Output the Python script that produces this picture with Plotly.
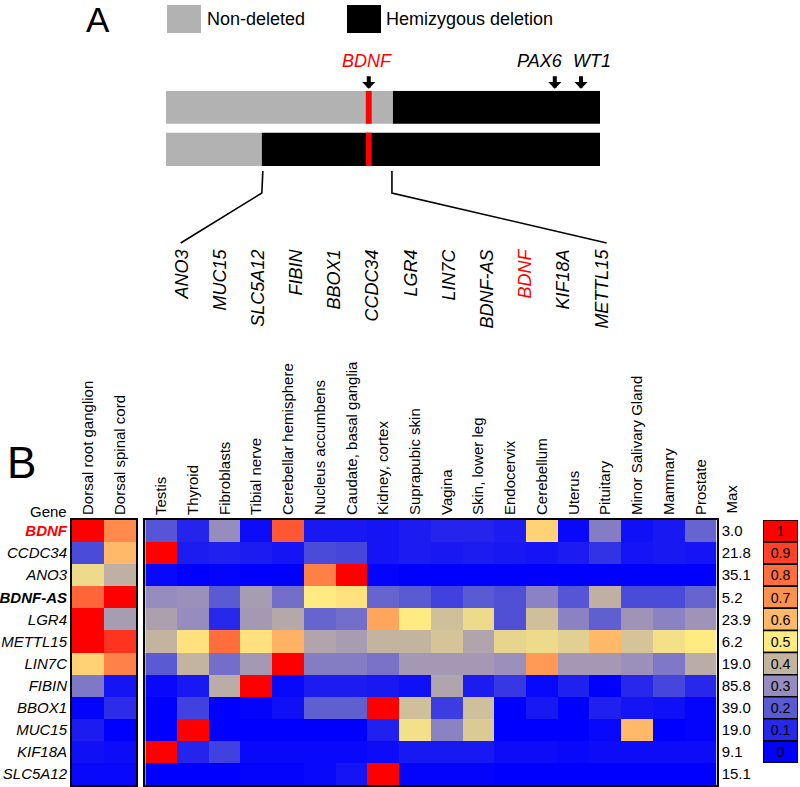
import plotly.graph_objects as go

# ---------------- data ----------------
# Panel A: chromosome 11p region (Mb)
chrom_start = 23.2
chrom_end = 32.8
patients = [0, 1]
breakpoints = [28.22, 25.32]          # start of hemizygous deletion per patient
bdnf_start, bdnf_end = 27.62, 27.75
marker_genes = ["BDNF", "PAX6", "WT1"]
marker_pos = [27.685, 31.80, 32.38]
deleted_genes = ["ANO3", "MUC15", "SLC5A12", "FIBIN", "BBOX1", "CCDC34",
                 "LGR4", "LIN7C", "BDNF-AS", "BDNF", "KIF18A", "METTL15"]

# Panel B: expression heatmap (row-normalised)
genes = ["BDNF", "CCDC34", "ANO3", "BDNF-AS", "LGR4", "METTL15", "LIN7C",
         "FIBIN", "BBOX1", "MUC15", "KIF18A", "SLC5A12"]
max_vals = [3.0, 21.8, 35.1, 5.2, 23.9, 6.2, 19.0, 85.8, 39.0, 19.0, 9.1, 15.1]
tissues_left = ["Dorsal root ganglion", "Dorsal spinal cord"]
tissues_right = ["Testis", "Thyroid", "Fibroblasts", "Tibial nerve",
                 "Cerebellar hemisphere", "Nucleus accumbens",
                 "Caudate, basal ganglia", "Kidney, cortex", "Suprapubic skin",
                 "Vagina", "Skin, lower leg", "Endocervix", "Cerebellum",
                 "Uterus", "Pituitary", "Minor Salivary Gland", "Mammary",
                 "Prostate"]
left_vals = [
    [1.00, 0.72],
    [0.17, 0.60],
    [0.47, 0.39],
    [0.82, 1.00],
    [1.00, 0.34],
    [1.00, 0.92],
    [0.55, 0.74],
    [0.26, 0.05],
    [0.01, 0.11],
    [0.07, 0.00],
    [0.04, 0.03],
    [0.02, 0.02],
]
right_vals = [
    [0.19, 0.09, 0.30, 0.03, 0.85, 0.06, 0.06, 0.05, 0.07, 0.09, 0.09, 0.07, 0.55, 0.02, 0.27, 0.04, 0.06, 0.22],
    [1.00, 0.07, 0.08, 0.07, 0.05, 0.17, 0.16, 0.05, 0.07, 0.06, 0.07, 0.06, 0.05, 0.07, 0.12, 0.05, 0.06, 0.05],
    [0.02, 0.00, 0.01, 0.00, 0.00, 0.75, 1.00, 0.01, 0.00, 0.00, 0.00, 0.00, 0.00, 0.00, 0.00, 0.00, 0.00, 0.00],
    [0.30, 0.31, 0.20, 0.34, 0.24, 0.50, 0.52, 0.22, 0.20, 0.15, 0.20, 0.18, 0.28, 0.19, 0.39, 0.17, 0.17, 0.22],
    [0.35, 0.30, 0.10, 0.33, 0.37, 0.22, 0.24, 0.65, 0.50, 0.42, 0.47, 0.18, 0.42, 0.28, 0.21, 0.32, 0.28, 0.32],
    [0.40, 0.52, 0.80, 0.52, 0.62, 0.36, 0.34, 0.40, 0.40, 0.43, 0.36, 0.46, 0.47, 0.45, 0.60, 0.43, 0.48, 0.50],
    [0.20, 0.40, 0.24, 0.33, 1.00, 0.27, 0.27, 0.25, 0.33, 0.33, 0.33, 0.31, 0.68, 0.33, 0.33, 0.31, 0.26, 0.38],
    [0.02, 0.06, 0.38, 1.00, 0.02, 0.07, 0.07, 0.06, 0.04, 0.36, 0.07, 0.13, 0.02, 0.08, 0.00, 0.10, 0.16, 0.10],
    [0.00, 0.15, 0.00, 0.01, 0.04, 0.21, 0.21, 1.00, 0.42, 0.14, 0.42, 0.00, 0.06, 0.00, 0.08, 0.05, 0.04, 0.01],
    [0.00, 1.00, 0.00, 0.00, 0.00, 0.00, 0.00, 0.08, 0.48, 0.28, 0.44, 0.00, 0.00, 0.00, 0.02, 0.60, 0.00, 0.01],
    [1.00, 0.09, 0.15, 0.02, 0.02, 0.02, 0.02, 0.03, 0.06, 0.06, 0.06, 0.03, 0.03, 0.02, 0.03, 0.03, 0.03, 0.03],
    [0.00, 0.00, 0.00, 0.01, 0.01, 0.02, 0.05, 1.00, 0.01, 0.01, 0.01, 0.00, 0.00, 0.00, 0.00, 0.00, 0.00, 0.00],
]
scale_levels = [1, 0.9, 0.8, 0.7, 0.6, 0.5, 0.4, 0.3, 0.2, 0.1, 0]
scale_labels = ["1", "0.9", "0.8", "0.7", "0.6", "0.5", "0.4", "0.3", "0.2", "0.1", "0"]
scale_colors = ["#ff0000", "#ff4128", "#ff6e3c", "#ff9150", "#ffb969", "#ffeb82",
                "#c3b4a0", "#968cbe", "#5a5ad2", "#2828eb", "#0000ff"]

# ---------------- layout helpers ----------------
W, H = 800, 787
FONT = "Liberation Sans, Arial, Helvetica, sans-serif"
def px(p):
    return p / W
def py(p):
    return 1 - p / H

BAR_W = 0.787
colorscale = [[lvl, c] for lvl, c in sorted(zip(scale_levels, scale_colors))]

fig = go.Figure()

# ---- Panel A: chromosome bars ----
fig.add_trace(go.Bar(y=patients, x=[b - chrom_start for b in breakpoints],
                     base=[chrom_start] * 2, orientation="h", width=BAR_W,
                     marker=dict(color="#b2b2b2", line=dict(width=0)),
                     xaxis="x3", yaxis="y3", hoverinfo="skip", showlegend=False))
fig.add_trace(go.Bar(y=patients, x=[chrom_end - b for b in breakpoints],
                     base=breakpoints, orientation="h", width=BAR_W,
                     marker=dict(color="#000000", line=dict(width=0)),
                     xaxis="x3", yaxis="y3", hoverinfo="skip", showlegend=False))
fig.add_trace(go.Bar(y=patients, x=[bdnf_end - bdnf_start] * 2,
                     base=[bdnf_start] * 2, orientation="h", width=BAR_W,
                     marker=dict(color="#ff0000", line=dict(width=0)),
                     xaxis="x3", yaxis="y3", hoverinfo="skip", showlegend=False))

# gene list axis (dummy invisible trace so the axis is drawn)
fig.add_trace(go.Scatter(x=list(range(len(deleted_genes))), y=[0] * len(deleted_genes),
                         mode="markers", marker=dict(opacity=0), xaxis="x4", yaxis="y4",
                         hoverinfo="skip", showlegend=False))

# ---- Panel B: heatmaps ----
fig.add_trace(go.Heatmap(z=left_vals, x=list(range(len(tissues_left))),
                         y=list(range(len(genes))), zmin=0, zmax=1,
                         colorscale=colorscale, showscale=False,
                         xaxis="x", yaxis="y", hoverinfo="skip"))
fig.add_trace(go.Heatmap(z=right_vals, x=list(range(len(tissues_right))),
                         y=list(range(len(genes))), zmin=0, zmax=1,
                         colorscale=colorscale, showscale=False,
                         xaxis="x2", yaxis="y2", hoverinfo="skip"))

# ---- colour key ----
fig.add_trace(go.Bar(y=scale_labels, x=[1] * len(scale_labels), orientation="h",
                     width=1, marker=dict(color=scale_colors,
                                          line=dict(color="black", width=1.5)),
                     text=scale_labels, textposition="inside",
                     insidetextanchor="middle", textangle=0,
                     textfont=dict(size=15, color="black", family=FONT),
                     xaxis="x5", yaxis="y5", hoverinfo="skip", showlegend=False))

# ---------------- tick texts ----------------
def row_label(g):
    if g == "BDNF":
        return '<b><i><span style="color:#ff0000">BDNF</span></i></b>'
    if g == "BDNF-AS":
        return "<b><i>BDNF-AS</i></b>"
    return "<i>%s</i>" % g

def top_gene_label(g):
    if g == "BDNF":
        return '<i><span style="color:#ff0000">BDNF</span></i>'
    return "<i>%s</i>" % g

hm_top, hm_bot = 520, 785
frame = dict(showline=True, mirror=True, linecolor="black", linewidth=2,
             showgrid=False, zeroline=False, ticks="")

fig.update_layout(
    width=W, height=H,
    margin=dict(l=0, r=0, t=0, b=0),
    paper_bgcolor="white", plot_bgcolor="white",
    font=dict(family=FONT, color="black", size=15),
    barmode="overlay",
    showlegend=False,
    xaxis=dict(domain=[px(72), px(136)], anchor="y", side="top",
               range=[-0.5, len(tissues_left) - 0.5],
               tickvals=list(range(len(tissues_left))), ticktext=tissues_left,
               tickangle=-90, tickfont=dict(size=15), **frame),
    yaxis=dict(domain=[py(hm_bot), py(hm_top)], anchor="x",
               range=[len(genes) - 0.5, -0.5],
               tickvals=list(range(len(genes))),
               ticktext=[row_label(g) for g in genes],
               tickfont=dict(size=15), **frame),
    xaxis2=dict(domain=[px(145.3), px(716.7)], anchor="y2", side="top",
                range=[-0.5, len(tissues_right) - 0.5],
                tickvals=list(range(len(tissues_right))), ticktext=tissues_right,
                tickangle=-90, tickfont=dict(size=15), **frame),
    yaxis2=dict(domain=[py(hm_bot), py(hm_top)], anchor="x2", side="right",
                range=[len(genes) - 0.5, -0.5],
                tickvals=list(range(len(genes))),
                ticktext=["%.1f" % v for v in max_vals],
                tickfont=dict(size=15), **frame),
    xaxis3=dict(domain=[px(166), px(600)], anchor="y3",
                range=[chrom_start, chrom_end], visible=False),
    yaxis3=dict(domain=[py(166), py(90.7)], anchor="x3",
                range=[1 + BAR_W / 2, -BAR_W / 2], visible=False),
    xaxis4=dict(domain=[px(162.6), px(620.8)], anchor="y4",
                range=[-0.5, len(deleted_genes) - 0.5],
                tickvals=list(range(len(deleted_genes))),
                ticktext=[top_gene_label(g) for g in deleted_genes],
                tickangle=-90, tickfont=dict(size=18), ticks="",
                showline=False, showgrid=False, zeroline=False),
    yaxis4=dict(domain=[py(245), py(240)], anchor="x4", visible=False),
    xaxis5=dict(domain=[px(763), px(798)], anchor="y5", range=[0, 1],
                visible=False),
    yaxis5=dict(domain=[py(763), py(hm_top)], anchor="x5", type="category",
                categoryorder="array", categoryarray=scale_labels,
                autorange="reversed", visible=False),
)

# ---------------- shapes (legend boxes, leader lines) ----------------
def mb_px(mb):
    return 166 + (mb - chrom_start) / (chrom_end - chrom_start) * (600 - 166)

def gene_px(i):
    step = (620.8 - 162.6) / len(deleted_genes)
    return 162.6 + (i + 0.5) * step

shapes = [
    dict(type="rect", xref="paper", yref="paper", x0=px(167), x1=px(201),
         y0=py(33), y1=py(5), fillcolor="#b2b2b2", line=dict(width=0)),
    dict(type="rect", xref="paper", yref="paper", x0=px(347), x1=px(381),
         y0=py(33), y1=py(5), fillcolor="#000000", line=dict(width=0)),
]
left_x = mb_px(breakpoints[1])
right_x = mb_px(breakpoints[0])
lines = [
    [(left_x + 1, 171), (left_x, 193), (gene_px(0) - 1, 243)],
    [(right_x - 1, 171), (right_x - 1, 193), (gene_px(len(deleted_genes) - 1) + 5, 243)],
]
for pts in lines:
    path = "M " + " L ".join("%f,%f" % (px(x), py(y)) for x, y in pts)
    shapes.append(dict(type="path", xref="paper", yref="paper", path=path,
                       line=dict(color="black", width=1.6)))
fig.update_layout(shapes=shapes)

# ---------------- annotations ----------------
ann = [
    dict(text="A", x=px(84), y=py(19.5), xanchor="left", yanchor="middle",
         font=dict(size=35)),
    dict(text="B", x=px(5), y=py(462.5), xanchor="left", yanchor="middle",
         font=dict(size=44)),
    dict(text="Non-deleted", x=px(205), y=py(19.5), xanchor="left",
         yanchor="middle", font=dict(size=18)),
    dict(text="Hemizygous deletion", x=px(384), y=py(19.5), xanchor="left",
         yanchor="middle", font=dict(size=18)),
    dict(text="Gene", x=px(69), y=py(511), xanchor="right", yanchor="middle",
         font=dict(size=15)),
    dict(text="Max", x=px(731), y=py(516), xanchor="center", yanchor="bottom",
         textangle=-90, font=dict(size=15)),
]
for a in ann:
    a.update(xref="paper", yref="paper", showarrow=False)

label_shift = {"BDNF": -1.5, "PAX6": -15, "WT1": 11}
for g, pos in zip(marker_genes, marker_pos):
    ann.append(dict(xref="x3", yref="y3", x=pos, y=-BAR_W / 2, text="",
                    showarrow=True, ax=0, ay=-16, arrowhead=1, arrowsize=0.55,
                    arrowwidth=4, arrowcolor="black", standoff=2))
    color = "#ff0000" if g == "BDNF" else "black"
    ann.append(dict(xref="x3", yref="y3", x=pos, y=-BAR_W / 2,
                    text="<i>%s</i>" % g, showarrow=False,
                    xshift=label_shift[g], yshift=29.7, yanchor="middle",
                    font=dict(size=18, color=color)))
fig.update_layout(annotations=ann)

fig.write_html("out.html", config={"displayModeBar": False},
               post_script="document.body.style.margin='0';")
